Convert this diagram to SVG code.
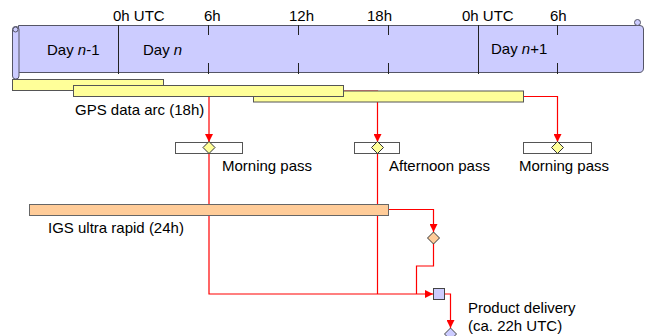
<svg xmlns="http://www.w3.org/2000/svg" width="648" height="336" viewBox="0 0 648 336">
<defs>
<marker id="ah" viewBox="0 0 10 10" refX="10" refY="5" markerWidth="8" markerHeight="8" markerUnits="userSpaceOnUse" orient="auto">
<path d="M0,0 L10,5 L0,10 Z" fill="#ff0000"/>
</marker>
</defs>
<style>
text{font-family:"Liberation Sans",Arial,sans-serif;font-size:15px;fill:#000}
.scroll{fill:#ccccff;stroke:#555566;stroke-width:1}
.tick{stroke:#222;stroke-width:1;fill:none}
.bar{fill:#ffff99;stroke:#555;stroke-width:1}
.igs{fill:#ffcc99;stroke:#666;stroke-width:1}
.pass{fill:#fff;stroke:#555;stroke-width:1}
.dy{fill:#ffff99;stroke:#333;stroke-width:1}
.dp{fill:#ffcc99;stroke:#333;stroke-width:1}
.dl{fill:#ccccff;stroke:#444;stroke-width:1}
.c{fill:none;stroke:#ff0000;stroke-width:1.2}
.ca{fill:none;stroke:#ff0000;stroke-width:1.2;marker-end:url(#ah)}
</style>
<g id="timeline">
<path class="scroll" d="M18.5,25.5 L640,25.5 Q643.5,25.5 643.5,29 L643.5,68 Q643.5,72.5 639,72.5 L18.5,72.5 Z"/>
<circle class="scroll" cx="637.5" cy="22.5" r="3"/>
<rect class="scroll" x="12.5" y="26.5" width="6.5" height="52.5" rx="3"/>
<circle class="scroll" cx="15.5" cy="29.5" r="2.5"/>
<line class="tick" x1="118.5" y1="25" x2="118.5" y2="74"/>
<line class="tick" x1="478.5" y1="25" x2="478.5" y2="74"/>
<path class="tick" d="M208.5,25 V35 M208.5,63 V74 M298.5,25 V35 M298.5,63 V74 M388.5,25 V35 M388.5,63 V74 M557.5,25 V35 M557.5,63 V74"/>
<text x="113" y="21">0h UTC</text>
<text x="204" y="21">6h</text>
<text x="289" y="21">12h</text>
<text x="367" y="21">18h</text>
<text x="462" y="21">0h UTC</text>
<text x="550" y="21">6h</text>
<text x="47" y="55">Day <tspan font-style="italic">n</tspan>-1</text>
<text x="143" y="55">Day <tspan font-style="italic">n</tspan></text>
<text x="491" y="54">Day <tspan font-style="italic">n</tspan>+1</text>
</g>
<g id="connectors">
<path class="ca" d="M209,97 V142"/>
<path class="ca" d="M343,91 H377.5 V142"/>
<path class="ca" d="M523,96.5 H557.5 V142"/>
<path class="c" d="M209,153 V294 H377"/>
<path class="c" d="M377.5,153 V294"/>
<path class="ca" d="M377,294 H433"/>
<path class="ca" d="M388,209.5 H433.5 V232"/>
<path class="c" d="M433.5,244 V266 H416.5 V294"/>
<path class="ca" d="M444,294 H450.5 V328"/>
</g>
<g id="gps-bars">
<rect class="bar" x="12.5" y="79.5" width="151" height="11"/>
<rect class="bar" x="253.5" y="91" width="270" height="11"/>
<rect class="bar" x="73.5" y="85.5" width="270" height="11"/>
<text x="75" y="115">GPS data arc (18h)</text>
</g>
<g id="pass1">
<rect class="pass" x="175.5" y="142.5" width="67" height="11"/>
<path class="dy" d="M209,141.5 L215,147.5 L209,153.5 L203,147.5 Z"/>
<text x="222" y="171">Morning pass</text>
</g>
<g id="pass2">
<rect class="pass" x="354.5" y="142.5" width="45" height="11"/>
<path class="dy" d="M377.5,141.5 L383.5,147.5 L377.5,153.5 L371.5,147.5 Z"/>
<text x="389" y="171">Afternoon pass</text>
</g>
<g id="pass3">
<rect class="pass" x="523.5" y="142.5" width="68" height="11"/>
<path class="dy" d="M557.5,141.5 L563.5,147.5 L557.5,153.5 L551.5,147.5 Z"/>
<text x="519" y="171">Morning pass</text>
</g>
<g id="igs">
<rect class="igs" x="29.5" y="204.5" width="359" height="11"/>
<text x="48" y="233">IGS ultra rapid (24h)</text>
</g>
<g id="igs-diamond">
<path class="dp" d="M433.5,232 L439.5,238 L433.5,244 L427.5,238 Z"/>
</g>
<g id="product">
<rect class="dl" x="433.5" y="288.5" width="11" height="11"/>
</g>
<g id="delivery">
<path class="dl" d="M450.5,328 L456.5,334 L450.5,340 L444.5,334 Z"/>
<text x="468" y="313">Product delivery</text>
<text x="468" y="331">(ca. 22h UTC)</text>
</g>
</svg>
